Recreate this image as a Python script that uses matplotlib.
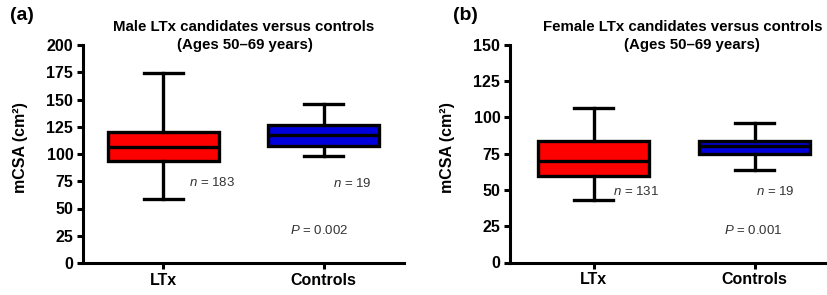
import matplotlib
matplotlib.use("Agg")
import matplotlib.pyplot as plt

plt.rcParams['font.family'] = ['Liberation Sans', 'DejaVu Sans']
plt.rcParams['mathtext.fontset'] = 'custom'
plt.rcParams['mathtext.rm'] = 'Liberation Sans'
plt.rcParams['mathtext.it'] = 'Liberation Sans:italic'

# data (mCSA, cm^2)
groups = ['LTx', 'Controls']

male_low = [59, 98]
male_q1 = [94, 107]
male_med = [106, 117]
male_q3 = [120, 127]
male_high = [174, 146]
male_n = [183, 19]
male_p = '0.002'

female_low = [43, 64]
female_q1 = [60, 74.5]
female_med = [70, 80.5]
female_q3 = [83.5, 84]
female_high = [106.5, 96.5]
female_n = [131, 19]
female_p = '0.001'

colors = ['#ff0000', '#0000dd']


def make_stats(low, q1, med, q3, high):
    stats = []
    for i in range(len(groups)):
        stats.append({'whislo': low[i], 'q1': q1[i], 'med': med[i],
                      'q3': q3[i], 'whishi': high[i], 'fliers': [],
                      'label': groups[i]})
    return stats


def draw_panel(ax, stats, ymax, ns, p, n_pos, p_pos):
    lw = 2.4
    bp = ax.bxp(stats, positions=[1, 2], widths=0.69, capwidths=0.24,
                showfliers=False, patch_artist=True,
                boxprops=dict(linewidth=lw, edgecolor='black'),
                medianprops=dict(linewidth=lw, color='black'),
                whiskerprops=dict(linewidth=lw, color='black'),
                capprops=dict(linewidth=lw, color='black'))
    for patch, c in zip(bp['boxes'], colors):
        patch.set_facecolor(c)
    ax.set_ylim(0, ymax)
    ax.set_yticks(range(0, ymax + 1, 25))
    ax.spines['top'].set_visible(False)
    ax.spines['right'].set_visible(False)
    ax.spines['left'].set_linewidth(2.2)
    ax.spines['bottom'].set_linewidth(2.2)
    ax.tick_params(axis='both', width=2.2, length=4, labelsize=11.5, pad=3)
    for lab in ax.get_xticklabels() + ax.get_yticklabels():
        lab.set_fontweight('bold')
    ax.set_ylabel('mCSA (cm²)', fontsize=11.5, fontweight='bold')
    ax.yaxis.set_label_coords(-0.17, 0.53)
    for (x, y), n in zip(n_pos, ns):
        ax.text(x, y, f'$n$ = {n}', fontsize=9.5, color='#333333',
                ha='left', va='center')
    ax.text(p_pos[0], p_pos[1], f'$P$ = {p}', fontsize=9.5,
            color='#333333', ha='left', va='center')


fig = plt.figure(figsize=(8.27, 2.95), dpi=100)

ax1 = fig.add_axes([83 / 827, 32 / 295, 321 / 827, 218 / 295])
ax1.set_xlim(0.5, 2.5)
draw_panel(ax1, make_stats(male_low, male_q1, male_med, male_q3, male_high),
           200, male_n, male_p, [(1.16, 73.5), (2.06, 73)], (1.79, 30))

ax2 = fig.add_axes([510 / 827, 32.5 / 295, 322 / 827, 217.5 / 295])
ax2.set_xlim(0.48, 2.48)
draw_panel(ax2, make_stats(female_low, female_q1, female_med, female_q3,
                           female_high),
           150, female_n, female_p, [(1.12, 49.3), (2.01, 49)], (1.81, 22))

# titles and panel letters
fig.text(113 / 827, 1 - 27 / 295, 'Male LTx candidates versus controls',
         fontsize=10.8, fontweight='bold', ha='left', va='center')
fig.text(245 / 827, 1 - 45 / 295, '(Ages 50\u201369 years)',
         fontsize=10.8, fontweight='bold', ha='center', va='center')
fig.text(543 / 827, 1 - 27 / 295, 'Female LTx candidates versus controls',
         fontsize=10.8, fontweight='bold', ha='left', va='center')
fig.text(692 / 827, 1 - 45 / 295, '(Ages 50\u201369 years)',
         fontsize=10.8, fontweight='bold', ha='center', va='center')
fig.text(10 / 827, 1 - 16 / 295, '(a)', fontsize=14, fontweight='bold',
         ha='left', va='center')
fig.text(453 / 827, 1 - 16 / 295, '(b)', fontsize=14, fontweight='bold',
         ha='left', va='center')

fig.savefig('out.png', dpi=100)
